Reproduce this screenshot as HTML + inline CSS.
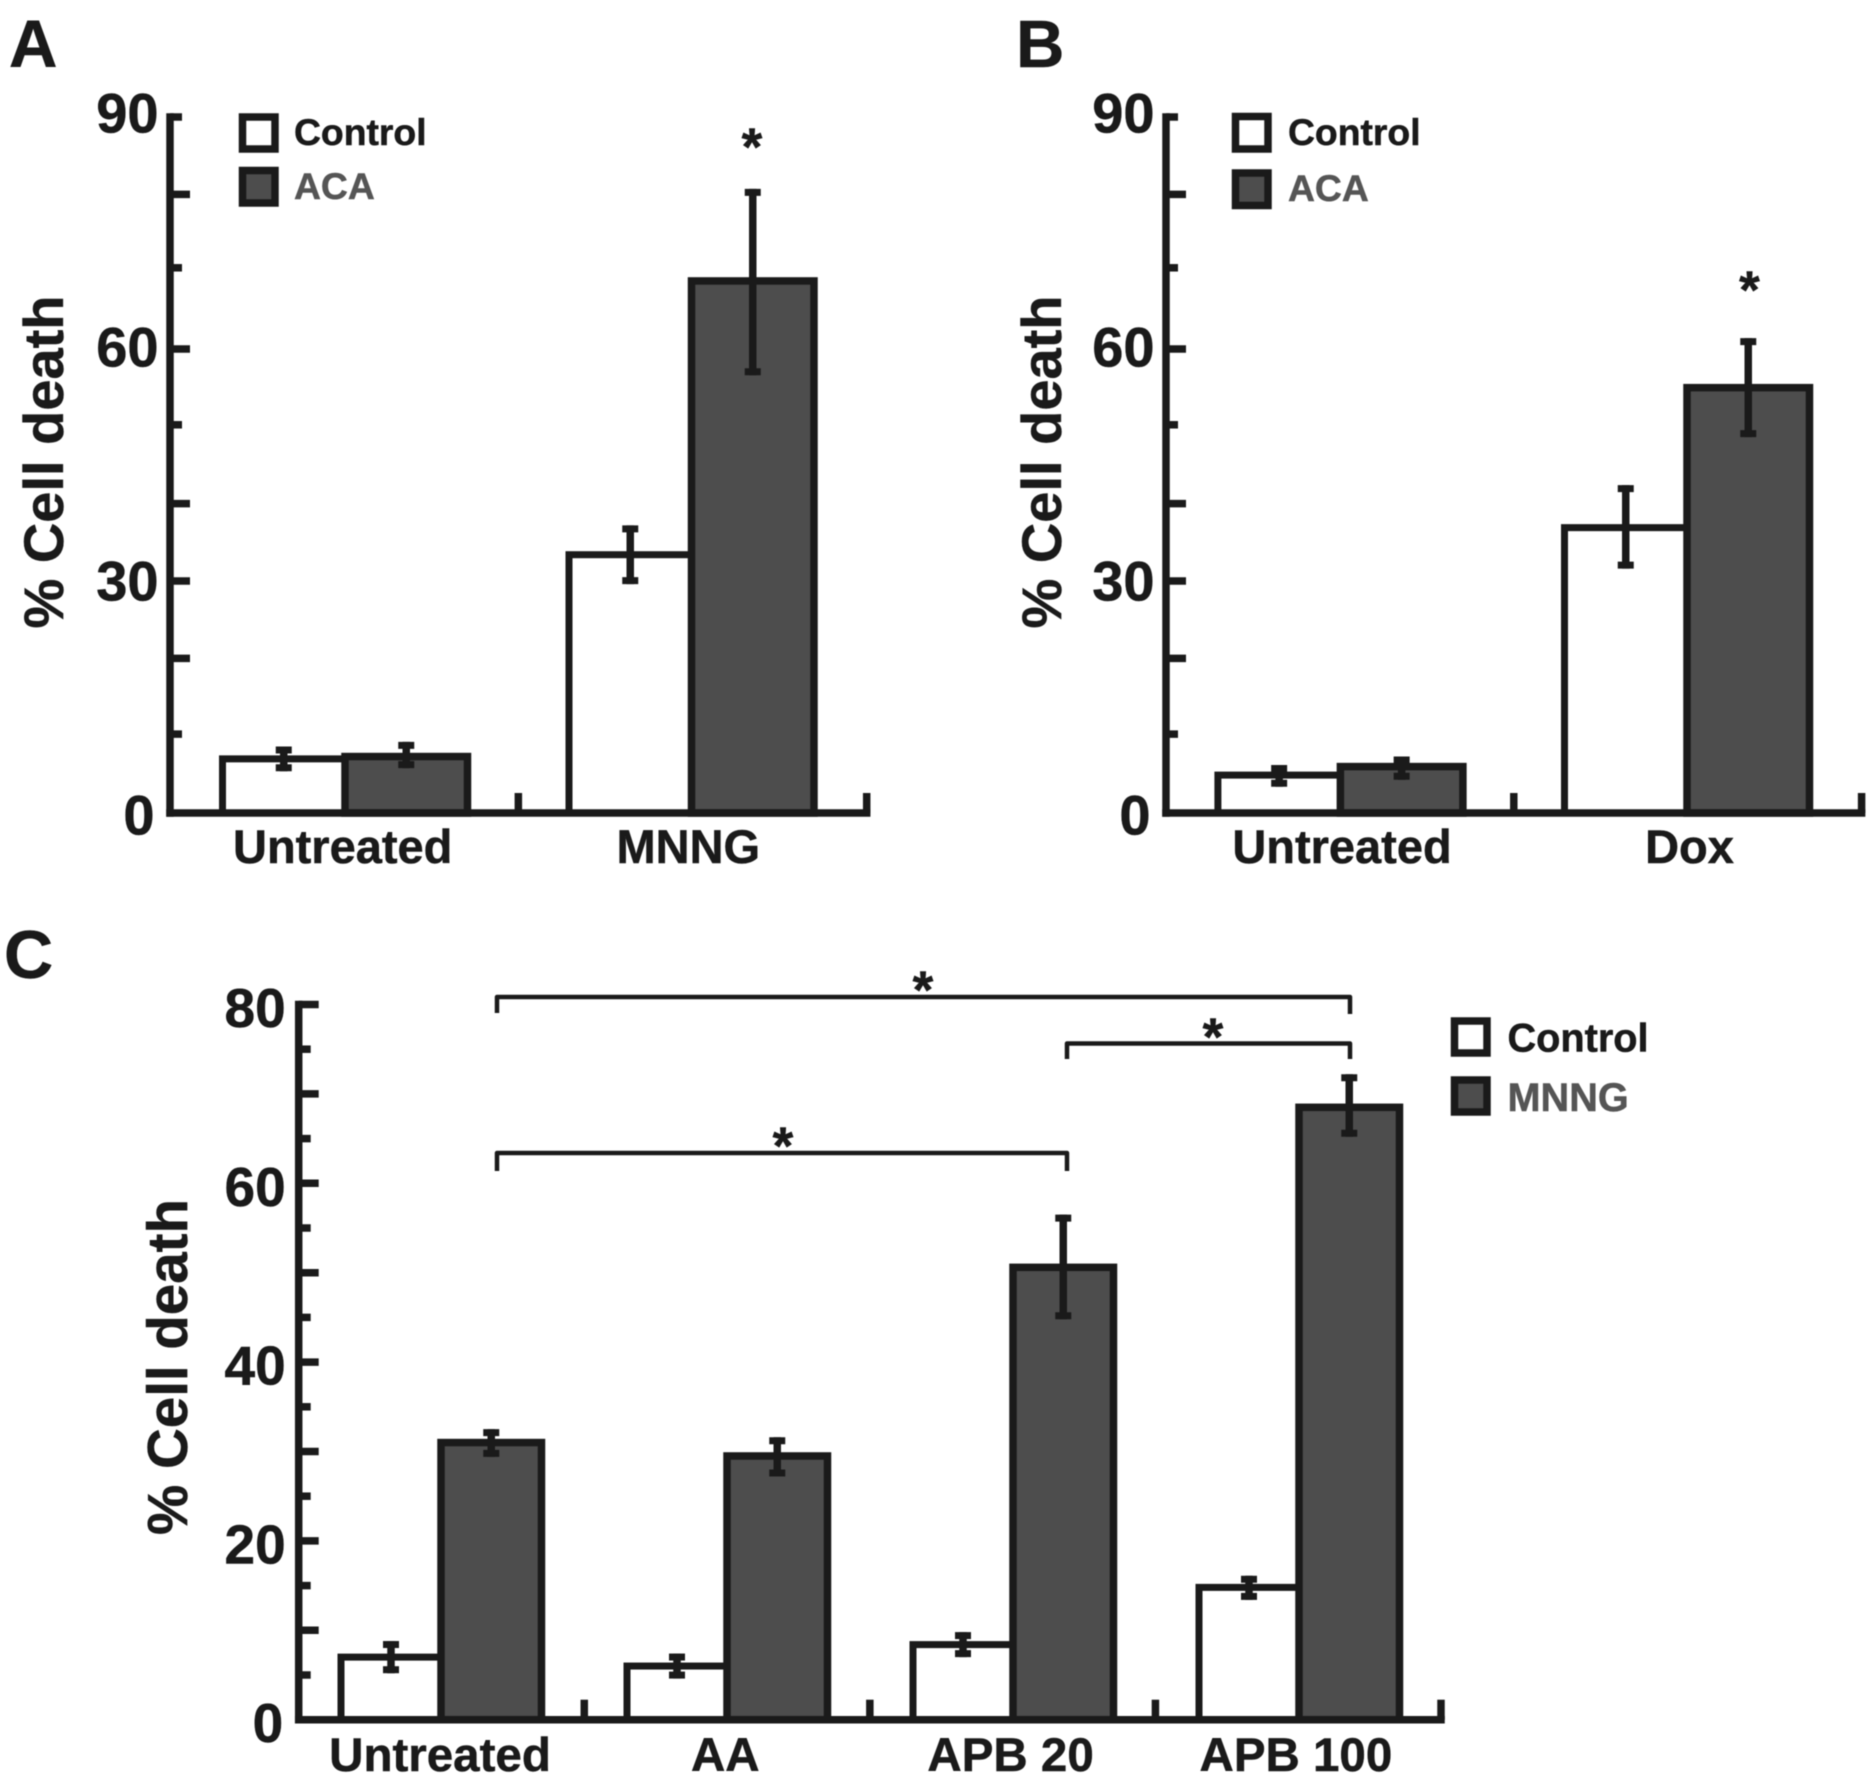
<!DOCTYPE html>
<html lang="en">
<head>
<meta charset="utf-8">
<title>Cell death bar charts</title>
<style>
html,body{margin:0;padding:0;background:#fff;width:1873px;height:1776px;overflow:hidden}
svg{display:block;filter:blur(0.6px)}
text{font-family:"Liberation Sans",Arial,sans-serif;font-weight:bold;fill:#1a1a1a;stroke:#1a1a1a;stroke-width:0.5px}
text.muted{fill:#555;stroke:#555}
</style>
</head>
<body>
<svg id="figure" xmlns="http://www.w3.org/2000/svg" width="1873" height="1776" viewBox="0 0 1873 1776">
  <rect width="1873" height="1776" fill="#fff"/>

  <g id="panel-a">
    <text x="9" y="67" font-size="67">A</text>
    <text transform="translate(63,462) rotate(-90)" text-anchor="middle" font-size="56">% Cell death</text>
    <rect x="242.500" y="117" width="32.500" height="32" fill="#fff" stroke="#1a1a1a" stroke-width="7.500"/>
    <text x="294" y="145" font-size="37.300">Control</text>
    <rect x="242.500" y="170.500" width="32.500" height="32.500" fill="#4d4d4d" stroke="#1a1a1a" stroke-width="7.500"/>
    <text class="muted" x="294" y="199" font-size="37.300">ACA</text>
    <text x="752" y="165" text-anchor="middle" font-size="53">*</text>
  </g>

  <g id="panel-b">
    <text x="1016" y="67" font-size="67">B</text>
    <text transform="translate(1061,462) rotate(-90)" text-anchor="middle" font-size="56">% Cell death</text>
    <rect x="1235.500" y="116.500" width="32.500" height="32.500" fill="#fff" stroke="#1a1a1a" stroke-width="7.500"/>
    <text x="1288" y="145" font-size="37.300">Control</text>
    <rect x="1235.500" y="173" width="32.500" height="32.500" fill="#4d4d4d" stroke="#1a1a1a" stroke-width="7.500"/>
    <text class="muted" x="1288" y="201" font-size="37.300">ACA</text>
    <text x="1749.500" y="308" text-anchor="middle" font-size="53">*</text>
  </g>

  <g id="panel-c">
    <text x="4" y="978" font-size="68">C</text>
    <text transform="translate(187,1367) rotate(-90)" text-anchor="middle" font-size="56.500">% Cell death</text>
    <rect x="1454.500" y="1021" width="32.500" height="32" fill="#fff" stroke="#1a1a1a" stroke-width="7.500"/>
    <text x="1507.500" y="1051.500" font-size="39.700">Control</text>
    <rect x="1454.500" y="1080" width="32.500" height="32" fill="#4d4d4d" stroke="#1a1a1a" stroke-width="7.500"/>
    <text class="muted" x="1507.500" y="1111" font-size="39.700">MNNG</text>
    <path d="M497 1013V997H1350V1014" fill="none" stroke="#1a1a1a" stroke-width="4.500" stroke-linejoin="round"/>
    <path d="M1067 1059V1043.500H1350V1059" fill="none" stroke="#1a1a1a" stroke-width="4.500" stroke-linejoin="round"/>
    <path d="M497 1171V1153H1067V1171" fill="none" stroke="#1a1a1a" stroke-width="4.500" stroke-linejoin="round"/>
    <text x="923" y="1008" text-anchor="middle" font-size="53">*</text>
    <text x="1213" y="1055" text-anchor="middle" font-size="53">*</text>
    <text x="783" y="1164" text-anchor="middle" font-size="53">*</text>
  </g>
</svg>

<script>
// Panel A data
const panelACategories = ['Untreated', 'MNNG'];
const panelAControl = [7.0, 33.4];
const panelAControlHigh = [8.6, 37.2];
const panelAControlLow = [5.4, 29.6];
const panelATreated = [7.3, 68.8];
const panelATreatedHigh = [9.2, 80.7];
const panelATreatedLow = [5.8, 56.6];
const panelATickLabels = [0, 30, 60, 90];
const panelALongTicks = [20, 30, 40, 60, 80];
const panelAShortTicks = [10.2, 50.2, 70.5, 90];

// Panel B data
const panelBCategories = ['Untreated', 'Dox'];
const panelBControl = [4.9, 36.9];
const panelBControlHigh = [6.2, 42.4];
const panelBControlLow = [3.4, 31.6];
const panelBTreated = [6.0, 55.0];
const panelBTreatedHigh = [7.3, 61.4];
const panelBTreatedLow = [4.3, 48.6];
const panelBTickLabels = [0, 30, 60, 90];
const panelBLongTicks = [20, 30, 40, 60, 80];
const panelBShortTicks = [10.2, 50.2, 70.5, 90];

// Panel C data
const panelCCategories = ['Untreated', 'AA', 'APB 20', 'APB 100'];
const panelCControl = [7.0, 6.0, 8.4, 14.8];
const panelCControlHigh = [8.8, 7.4, 9.8, 16.1];
const panelCControlLow = [5.2, 4.6, 7.0, 13.4];
const panelCTreated = [31.0, 29.5, 50.6, 68.5];
const panelCTreatedHigh = [32.5, 31.6, 56.5, 72.2];
const panelCTreatedLow = [29.4, 27.2, 44.8, 65.2];
const panelCTickLabels = [0, 20, 40, 60, 80];
const panelCLongTicks = [10, 20, 30, 40, 50, 60, 70, 80];
const panelCShortTicks = [5, 15, 25, 35, 45, 55, 65, 75];

const INK = '#1a1a1a';
const SVGNS = 'http://www.w3.org/2000/svg';

function make(parent, tag, attrs, name) {
  const el = document.createElementNS(SVGNS, tag);
  Object.keys(attrs).forEach(function (k) { el.setAttribute(k, attrs[k]); });
  
  
  parent.appendChild(el);
  return el;
}

function drawPanel(groupId, prefix, layout, d) {
  const group = document.getElementById(groupId);
  const yScale = function (v) { return layout.y0 - (v / layout.yMax) * (layout.y0 - layout.yTop); };
  const band = (layout.xEnd - layout.x0) / d.categories.length;
  const xCenter = function (i) { return layout.groupStart + i * layout.groupStep; };
  const labelX = function (i) { return layout.labelStart + i * layout.labelStep; };

  // bars
  d.categories.forEach(function (cat, i) {
    const c = xCenter(i);
    make(group, 'rect', {
      x: c - layout.controlW, y: yScale(d.control[i]), width: layout.controlW,
      height: layout.y0 - yScale(d.control[i]),
      fill: '#fff', stroke: INK, 'stroke-width': 7
    }, prefix + '-bar-control-' + i);
    make(group, 'rect', {
      x: c, y: yScale(d.treated[i]), width: layout.treatedW,
      height: layout.y0 - yScale(d.treated[i]),
      fill: '#4d4d4d', stroke: INK, 'stroke-width': 7.5
    }, prefix + '-bar-treated-' + i);
  });

  // error bars: high and low are the outer edges of the caps
  function errorBar(x, high, low, name) {
    make(group, 'line', { x1: x, x2: x, y1: yScale(high), y2: yScale(low), stroke: INK, 'stroke-width': 7.5 }, name + '-stem');
    make(group, 'line', { x1: x - 8, x2: x + 8, y1: yScale(high) + 3.5, y2: yScale(high) + 3.5, stroke: INK, 'stroke-width': 7 }, name + '-cap-high');
    make(group, 'line', { x1: x - 8, x2: x + 8, y1: yScale(low) - 3.5, y2: yScale(low) - 3.5, stroke: INK, 'stroke-width': 7 }, name + '-cap-low');
  }
  d.categories.forEach(function (cat, i) {
    const c = xCenter(i);
    errorBar(c - layout.controlW / 2, d.controlHigh[i], d.controlLow[i], prefix + '-error-control-' + i);
    errorBar(c + layout.treatedW / 2, d.treatedHigh[i], d.treatedLow[i], prefix + '-error-treated-' + i);
  });

  // axes
  make(group, 'line', { x1: layout.x0, x2: layout.x0, y1: yScale(layout.yMax) - 3.75, y2: layout.y0 + 3.75, stroke: INK, 'stroke-width': 7.5 }, prefix + '-y-axis');
  make(group, 'line', { x1: layout.x0 - 3.75, x2: layout.xEnd + 3.75, y1: layout.y0, y2: layout.y0, stroke: INK, 'stroke-width': 7.5 }, prefix + '-x-axis');

  // y ticks
  d.longTicks.forEach(function (v) {
    make(group, 'line', { x1: layout.x0, x2: layout.x0 + 20, y1: yScale(v), y2: yScale(v), stroke: INK, 'stroke-width': 7.5 }, prefix + '-y-tick-major-' + v);
  });
  d.shortTicks.forEach(function (v) {
    make(group, 'line', { x1: layout.x0, x2: layout.x0 + 12, y1: yScale(v), y2: yScale(v), stroke: INK, 'stroke-width': 7.5 }, prefix + '-y-tick-minor-' + v);
  });
  d.tickLabels.forEach(function (v) {
    const gap = v === 0 ? layout.zeroGap : layout.labelGap;
    const shift = layout.shiftTop + (1 - v / layout.yMax) * (layout.shiftBottom - layout.shiftTop);
    const t = make(group, 'text', {
      x: layout.x0 - gap, y: yScale(v) + shift,
      'text-anchor': 'end', 'font-size': layout.tickFont
    }, prefix + '-y-tick-label-' + v);
    t.textContent = String(v);
  });

  // x ticks and labels
  d.categories.forEach(function (cat, i) {
    const x = layout.x0 + (i + 1) * band;
    make(group, 'line', { x1: x, x2: x, y1: layout.y0 - 20, y2: layout.y0, stroke: INK, 'stroke-width': 7.5 }, prefix + '-x-tick-' + i);
    const t = make(group, 'text', {
      x: labelX(i), y: layout.xLabelY, 'text-anchor': 'middle', 'font-size': layout.xFont
    }, prefix + '-x-label-' + i);
    t.textContent = cat;
  });
}

const sharedTop = { y0: 813, yTop: 117, yMax: 90, controlW: 122.5, treatedW: 122.5,
  labelGap: 11.5, zeroGap: 15.5, shiftTop: 15.5, shiftBottom: 21.5, tickFont: 56, xFont: 47, xLabelY: 863 };

drawPanel('panel-a', 'panel-a', Object.assign({
  x0: 170, xEnd: 866.7, groupStart: 345, groupStep: 346.5, labelStart: 342.7, labelStep: 345.6
}, sharedTop), {
  categories: panelACategories,
  control: panelAControl, controlHigh: panelAControlHigh, controlLow: panelAControlLow,
  treated: panelATreated, treatedHigh: panelATreatedHigh, treatedLow: panelATreatedLow,
  tickLabels: panelATickLabels, longTicks: panelALongTicks, shortTicks: panelAShortTicks
});

drawPanel('panel-b', 'panel-b', Object.assign({
  x0: 1166, xEnd: 1861.6, groupStart: 1340.4, groupStep: 346.6, labelStart: 1342, labelStep: 347.5
}, sharedTop), {
  categories: panelBCategories,
  control: panelBControl, controlHigh: panelBControlHigh, controlLow: panelBControlLow,
  treated: panelBTreated, treatedHigh: panelBTreatedHigh, treatedLow: panelBTreatedLow,
  tickLabels: panelBTickLabels, longTicks: panelBLongTicks, shortTicks: panelBShortTicks
});

drawPanel('panel-c', 'panel-c', {
  x0: 298.7, xEnd: 1441, y0: 1719.7, yTop: 1004.5, yMax: 80, controlW: 100, treatedW: 100.5,
  groupStart: 441, groupStep: 286, labelStart: 440, labelStep: 285.3,
  labelGap: 13, zeroGap: 15.5, shiftTop: 22.5, shiftBottom: 22.5, tickFont: 55, xFont: 47.5, xLabelY: 1771
}, {
  categories: panelCCategories,
  control: panelCControl, controlHigh: panelCControlHigh, controlLow: panelCControlLow,
  treated: panelCTreated, treatedHigh: panelCTreatedHigh, treatedLow: panelCTreatedLow,
  tickLabels: panelCTickLabels, longTicks: panelCLongTicks, shortTicks: panelCShortTicks
});
</script>
</body>
</html>
